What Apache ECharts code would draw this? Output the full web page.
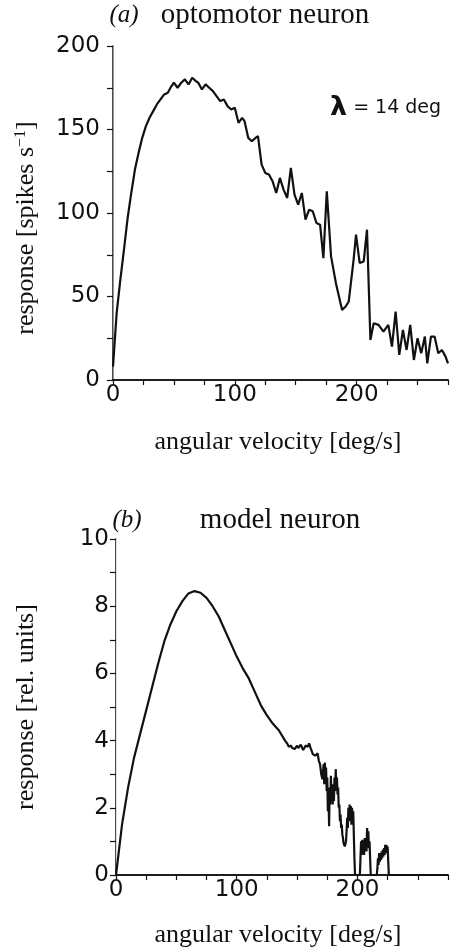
<!DOCTYPE html>
<html><head><meta charset="utf-8">
<script src="https://cdn.jsdelivr.net/npm/echarts@6/dist/echarts.min.js"></script>
<style>html,body{margin:0;padding:0;background:#fff}#c{width:451px;height:948px}</style>
</head><body><div id="c"></div>
<script>
// (a) optomotor neuron
const velA = [0,3,6,9,12,15,18,21,24,27,30,33,36,39,42,45,48,50,53,56,59,62,65,68,70,73,76,79,82,85,88,91,94,97,100,103,106,108,111,114,117,119,122,125,128,131,134,137,140,143,146,149,152,155,158,161,164,167,170,172.7,175.5,179,183,188,191,193.5,197.5,199.5,202.5,205.8,208.5,211.3,214,218,222,226,229,232,235,238,241,244,247,250,253,256,258,261,264,267,270,273,275];
const respA = [8,40,60,78,97,112,126,136,145,152,157,161,165,168,171,172,176,178,175,178,180,177,181,179,178,174,177,175,173,170,167,168,164,162,163,154,157,155,145,143,145,146,129,124,123,119,112,121,114,109,127,111,105,112,96,102,101,94,93,73,113,74,58,42,44,47,72,87,70,71,90,24,34,33,29,33,20,41,15,30,18,33,12,25,16,26,10,26,26,16,18,14,10];
// (b) model neuron
const velB = [0,5,10,15,20,25,30,35,40,45,50,55,60,65,70,75,80,85,90,95,100,105,110,115,120,125,130,135,
  140,141,142,143,144,145,146,147,148,149,150,151,152,153,154,155,156,157,158,159,160,161,162,163,164,165,166,167,168,169,170,171,
  171.5,172,172.5,173,173.5,174,174.5,175,175.5,176,176.5,177,177.5,178,178.5,179,179.5,180,180.5,181,181.5,182,182.5,183,183.5,184,184.5,185,185.5,186,186.5,187,187.5,188,188.5,189,189.5,190,190.5,191,191.5,192,192.5,193,193.5,194,194.5,195,195.5,196,196.5,197,197.5,198,
  202,202.5,203,203.5,204,204.5,205,205.5,206,206.5,207,207.5,208,208.5,209,209.5,210,210.5,211,
  216,216.5,217,217.5,218,218.5,219,219.5,220,220.5,221,221.5,222,222.5,223,223.5,224,224.5,225,225.5,226,275];
const respB = [0,1.5,2.6,3.5,4.2,4.9,5.6,6.3,6.95,7.45,7.85,8.15,8.38,8.45,8.4,8.25,8.0,7.7,7.3,6.9,6.5,6.15,5.85,5.45,5.05,4.75,4.5,4.3,
  4.0,3.95,3.9,3.82,3.8,3.85,3.78,3.82,3.75,3.8,3.85,3.78,3.82,3.88,3.8,3.72,3.78,3.85,3.8,3.82,3.92,3.8,3.7,3.6,3.65,3.55,3.5,3.62,3.4,3.3,3.0,2.85,
  3.1,3.3,2.7,3.35,2.9,3.2,2.5,2.9,1.9,2.6,1.45,2.6,2.1,2.95,2.2,2.7,2.1,2.5,2.2,2.9,2.5,3.15,2.7,2.9,2.4,2.6,2.0,2.1,1.6,1.8,1.4,1.5,1.2,1.1,0.95,0.9,0.85,0.9,1.0,1.3,1.7,1.4,2.0,1.6,2.1,1.7,2.05,1.5,2.0,1.6,1.9,1.2,0.5,0,
  0,0.5,1.0,0.6,1.05,0.7,1.0,0.6,1.1,0.8,1.0,0.7,1.4,0.9,1.3,0.8,1.0,0.5,0,
  0,0.2,0.5,0.3,0.65,0.4,0.6,0.45,0.7,0.5,0.75,0.55,0.8,0.6,0.9,0.65,0.9,0.7,0.85,0.4,0,0];
// tick labels
const xTickLabels = [0,100,200];
const yTickLabelsA = [0,50,100,150,200];
const yTickLabelsB = [0,2,4,6,8,10];

const ink = '#111';
const sans = 'DejaVu Sans';
const serif = 'Liberation Serif';

function xAx(grid, labels) {
  return {
    gridIndex: grid, type: 'value', min: 0, max: 275, interval: 25,
    axisLine: {onZero: false, lineStyle: {color: ink, width: 1.5}},
    axisTick: {length: 5, lineStyle: {color: ink, width: 1.2}},
    axisLabel: {formatter: v => labels.includes(v) ? String(v) : '', fontFamily: sans, fontSize: 23, color: ink, margin: 4},
    splitLine: {show: false}
  };
}
function topBorder(grid) {
  return {gridIndex: grid, type: 'value', position: 'top', min: 0, max: 275,
    axisLine: {lineStyle: {color: ink, width: 1.5}}, axisTick: {show: false},
    axisLabel: {show: false}, splitLine: {show: false}};
}
function yAx(grid, max, interval, labels, margin) {
  return {
    gridIndex: grid, type: 'value', min: 0, max: max, interval: interval,
    axisLine: {onZero: false, lineStyle: {color: ink, width: 1.5}},
    axisTick: {length: 6, lineStyle: {color: ink, width: 1.2}},
    axisLabel: {formatter: v => labels.includes(v) ? String(v) : '', fontFamily: sans, fontSize: 23, color: ink, margin: margin},
    splitLine: {show: false}
  };
}
function rightBorder(grid, max, color) {
  return {gridIndex: grid, type: 'value', position: 'right', min: 0, max: max,
    axisLine: {lineStyle: {color: color, width: 1}}, axisTick: {show: false},
    axisLabel: {show: false}, splitLine: {show: false}};
}
function txt(x, y, text, size, extra) {
  return {type: 'text', x: x, y: y,
    style: Object.assign({text: text, fontFamily: serif, fontSize: size, fill: ink, align: 'center', verticalAlign: 'middle'}, extra || {})};
}

const chart = echarts.init(document.getElementById('c'), null, {renderer: 'canvas'});
chart.setOption({
  animation: false,
  backgroundColor: '#fff',
  grid: [
    {left: 113, top: 46, width: 336, height: 334},
    {left: 116, top: 539, width: 333, height: 336}
  ],
  xAxis: [xAx(0, xTickLabels), topBorder(0), xAx(1, xTickLabels), topBorder(1)],
  yAxis: [yAx(0, 200, 25, yTickLabelsA, 13), rightBorder(0, 200, '#999'), yAx(1, 10, 1, yTickLabelsB, 7), rightBorder(1, 10, '#ddd')],
  series: [
    {type: 'line', xAxisIndex: 0, yAxisIndex: 0, showSymbol: false, silent: true,
     lineStyle: {color: ink, width: 2.2}, data: velA.map((v, i) => [v, respA[i]])},
    {type: 'line', xAxisIndex: 2, yAxisIndex: 2, showSymbol: false, silent: true,
     lineStyle: {color: ink, width: 2.2}, data: velB.map((v, i) => [v, respB[i]])}
  ],
  graphic: [
    txt(124, 15, '(a)', 25, {fontStyle: 'italic'}),
    txt(265, 15, 'optomotor neuron', 29),
    txt(278, 442, 'angular velocity [deg/s]', 26),
    {type: 'text', x: 26, y: 228, rotation: Math.PI / 2,
     style: {text: 'response [spikes s{sup|−1}]', fontFamily: serif, fontSize: 26, fill: ink, align: 'center', verticalAlign: 'middle',
       rich: {sup: {fontFamily: serif, fontSize: 16, verticalAlign: 'top', fill: ink}}}},
    {type: 'text', x: 330, y: 108,
     style: {text: '{l|λ} = 14 deg', fontFamily: sans, fontSize: 19, fill: ink, align: 'left', verticalAlign: 'middle',
       rich: {l: {fontFamily: sans, fontSize: 27, fontWeight: 'bold', fill: ink}}}},
    txt(127, 520, '(b)', 25, {fontStyle: 'italic'}),
    txt(280, 520, 'model neuron', 29),
    txt(278, 935, 'angular velocity [deg/s]', 26),
    {type: 'text', x: 26, y: 707, rotation: Math.PI / 2,
     style: {text: 'response [rel. units]', fontFamily: serif, fontSize: 26, fill: ink, align: 'center', verticalAlign: 'middle'}}
  ]
});
</script>
</body></html>
